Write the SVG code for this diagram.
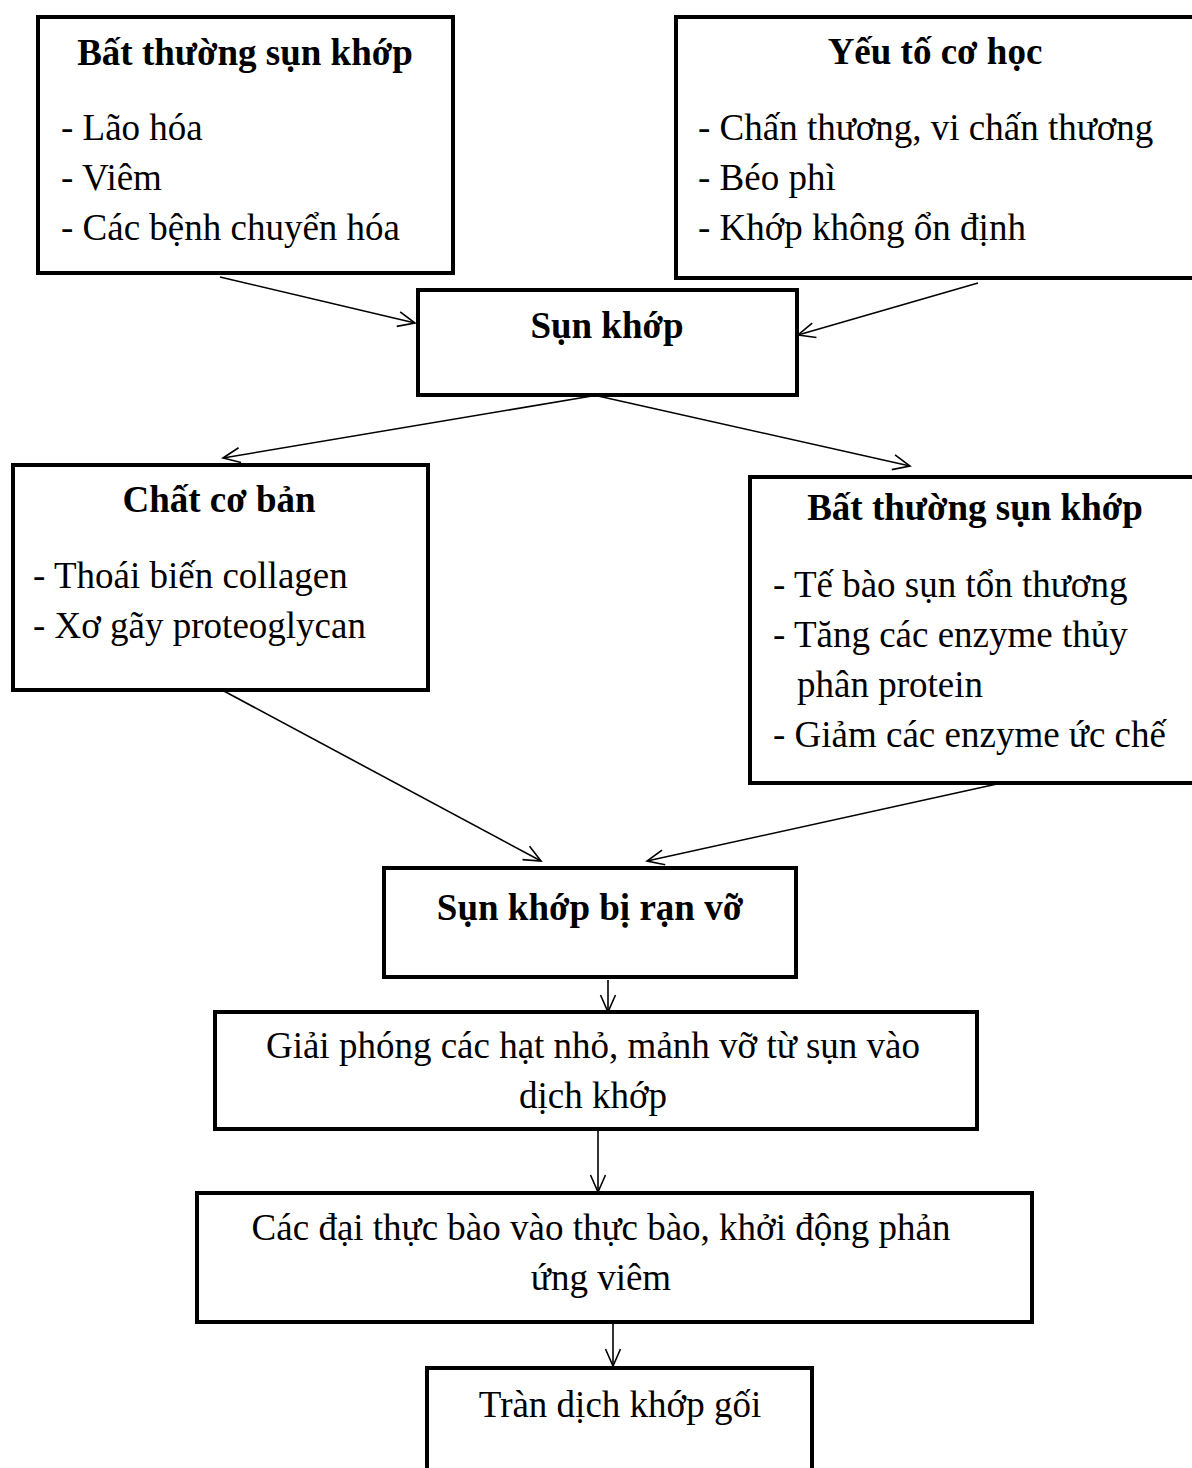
<svg xmlns="http://www.w3.org/2000/svg" width="1192" height="1468" viewBox="0 0 1192 1468">
  <style>
    .box { fill: #fff; stroke: #000; stroke-width: 4; }
    .t { font-family: "Liberation Serif", "Times New Roman", serif; font-size: 37px; fill: #000; }
    .b { font-weight: bold; }
    .c { text-anchor: middle; }
    .conn { stroke: #000; stroke-width: 1.6; fill: none; marker-end: url(#arr); }
  </style>
  <defs>
    <marker id="arr" markerUnits="userSpaceOnUse" markerWidth="24" markerHeight="20" viewBox="-20 -10 24 20" refX="0" refY="0" orient="auto">
      <path d="M-17,-7.5 L0,0 L-17,7.5" fill="none" stroke="#000" stroke-width="1.6"/>
    </marker>
  </defs>
  <rect x="0" y="0" width="1192" height="1468" fill="#fff"/>

  <g id="n1">
    <rect class="box" x="38" y="17" width="415" height="256"/>
    <text class="t b c" x="245" y="65">Bất thường sụn khớp</text>
    <text class="t" x="61" y="140">- Lão hóa</text>
    <text class="t" x="61" y="190">- Viêm</text>
    <text class="t" x="61" y="240">- Các bệnh chuyển hóa</text>
  </g>

  <g id="n2">
    <rect class="box" x="676" y="17" width="540" height="261"/>
    <text class="t b c" x="935" y="64">Yếu tố cơ học</text>
    <text class="t" x="698" y="140">- Chấn thương, vi chấn thương</text>
    <text class="t" x="698" y="190">- Béo phì</text>
    <text class="t" x="698" y="240">- Khớp không ổn định</text>
  </g>

  <g id="n3">
    <rect class="box" x="418" y="290" width="379" height="105"/>
    <text class="t b c" x="607" y="338">Sụn khớp</text>
  </g>

  <g id="n4">
    <rect class="box" x="13" y="465" width="415" height="225"/>
    <text class="t b c" x="219" y="512">Chất cơ bản</text>
    <text class="t" x="33" y="588">- Thoái biến collagen</text>
    <text class="t" x="33" y="638">- Xơ gãy proteoglycan</text>
  </g>

  <g id="n5">
    <rect class="box" x="750" y="477" width="470" height="306"/>
    <text class="t b c" x="975" y="520">Bất thường sụn khớp</text>
    <text class="t" x="773" y="597">- Tế bào sụn tổn thương</text>
    <text class="t" x="773" y="647">- Tăng các enzyme thủy</text>
    <text class="t" x="797" y="697">phân protein</text>
    <text class="t" x="773" y="747">- Giảm các enzyme ức chế</text>
  </g>

  <g id="n6">
    <rect class="box" x="384" y="868" width="412" height="109"/>
    <text class="t b c" x="590" y="920">Sụn khớp bị rạn vỡ</text>
  </g>

  <g id="n7">
    <rect class="box" x="215" y="1012" width="762" height="117"/>
    <text class="t c" x="593" y="1058">Giải phóng các hạt nhỏ, mảnh vỡ từ sụn vào</text>
    <text class="t c" x="593" y="1108">dịch khớp</text>
  </g>

  <g id="n8">
    <rect class="box" x="197" y="1193" width="835" height="129"/>
    <text class="t c" x="601" y="1240">Các đại thực bào vào thực bào, khởi động phản</text>
    <text class="t c" x="601" y="1290">ứng viêm</text>
  </g>

  <g id="n9">
    <rect class="box" x="427" y="1368" width="385" height="160"/>
    <text class="t c" x="620" y="1417">Tràn dịch khớp gối</text>
  </g>

  <g id="connectors">
    <line class="conn" x1="220" y1="277" x2="415" y2="323"/>
    <line class="conn" x1="978" y1="283" x2="798" y2="335"/>
    <line class="conn" x1="592" y1="396" x2="223" y2="458"/>
    <line class="conn" x1="598" y1="396" x2="910" y2="466"/>
    <line class="conn" x1="222" y1="690" x2="541" y2="861"/>
    <line class="conn" x1="997" y1="784" x2="647" y2="861"/>
    <line class="conn" x1="608" y1="980" x2="608" y2="1012"/>
    <line class="conn" x1="598" y1="1131" x2="598" y2="1192"/>
    <line class="conn" x1="613" y1="1324" x2="613" y2="1366"/>
  </g>
</svg>
